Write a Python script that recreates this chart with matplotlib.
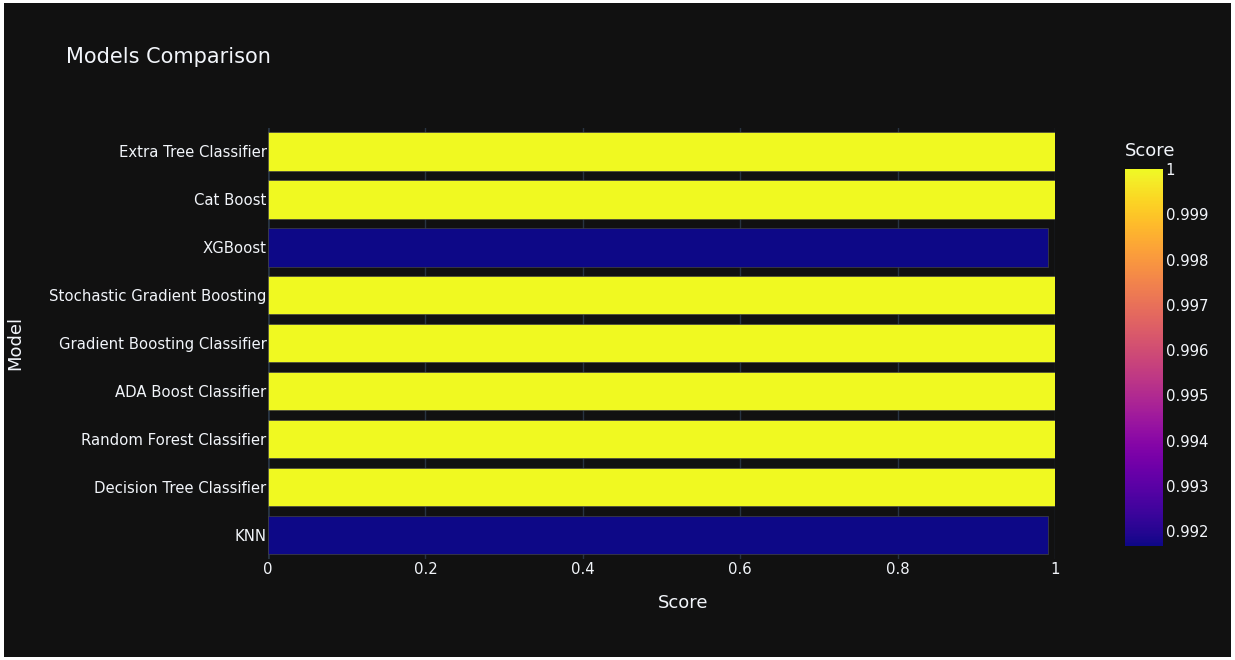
import matplotlib.pyplot as plt
import matplotlib.colors as mcolors
from matplotlib.patches import Rectangle

plt.rcParams['font.family'] = ['DejaVu Sans']

# Model scores, bottom to top as drawn
models = ['KNN', 'Decision Tree Classifier', 'Random Forest Classifier',
          'ADA Boost Classifier', 'Gradient Boosting Classifier',
          'Stochastic Gradient Boosting', 'XGBoost', 'Cat Boost',
          'Extra Tree Classifier']
scores = [0.99167, 1.0, 1.0, 1.0, 1.0, 1.0, 0.99167, 1.0, 1.0]
x_ticks = [0, 0.2, 0.4, 0.6, 0.8, 1]
cbar_ticks = [0.992, 0.993, 0.994, 0.995, 0.996, 0.997, 0.998, 0.999, 1]

bg = '#111111'
txt = '#f2f5fa'
grid = '#283442'

fig = plt.figure(figsize=(12.35, 6.6), dpi=100, facecolor='white')
# dark paper inset inside thin white frame
fig.patches.append(Rectangle((4 / 1235, 3 / 660), 1227 / 1235, 654 / 660,
                             transform=fig.transFigure, facecolor=bg,
                             edgecolor='none', zorder=-5))

ax = fig.add_axes([268 / 1235, 1 - 559 / 660, 787 / 1235, 431.5 / 660])
ax.set_facecolor(bg)

cmap = plt.get_cmap('plasma')
norm = mcolors.Normalize(vmin=min(scores), vmax=max(scores))
ypos = list(range(len(models)))
ax.barh(ypos, scores, height=0.8, color=[cmap(norm(s)) for s in scores],
        edgecolor='#444444', linewidth=0.5, zorder=3)

ax.set_xlim(0, 1)
ax.set_ylim(-0.5, len(models) - 0.5)
ax.set_xticks(x_ticks)
ax.set_xticklabels(['0', '0.2', '0.4', '0.6', '0.8', '1'])
ax.set_yticks(ypos)
ax.set_yticklabels(models)
ax.tick_params(axis='x', colors=txt, labelsize=10.7, length=0, pad=2)
ax.tick_params(axis='y', colors=txt, labelsize=10.7, length=0, pad=1)
ax.grid(axis='x', color=grid, linewidth=1, zorder=0)
ax.axvline(0, color=grid, linewidth=2, zorder=1)
for s in ax.spines.values():
    s.set_visible(False)

ax.set_xlabel('Score', color=txt, fontsize=13)
ax.xaxis.set_label_coords((683 - 268) / 787, -(603 - 559) / 431.5)
ax.xaxis.label.set_va('center')
ax.set_ylabel('Model', color=txt, fontsize=13)
ax.yaxis.set_label_coords(-(268 - 15) / 787, 0.5)
ax.yaxis.label.set_va('center')

fig.text(66 / 1235, 1 - 57 / 660, 'Models Comparison', color=txt,
         fontsize=15, va='center', ha='left')

cax = fig.add_axes([1125 / 1235, 1 - 546 / 660, 38 / 1235, 377 / 660])
sm = plt.cm.ScalarMappable(norm=norm, cmap=cmap)
cb = fig.colorbar(sm, cax=cax)
cb.set_ticks(cbar_ticks)
cb.set_ticklabels(['0.992', '0.993', '0.994', '0.995', '0.996', '0.997',
                   '0.998', '0.999', '1'])
cb.outline.set_visible(False)
cax.tick_params(colors=txt, labelsize=10.7, length=0, pad=2)
fig.text(1150 / 1235, 1 - 151 / 660, 'Score', color=txt, fontsize=13,
         ha='center', va='center')

fig.savefig('out.png', dpi=100, facecolor=fig.get_facecolor())
